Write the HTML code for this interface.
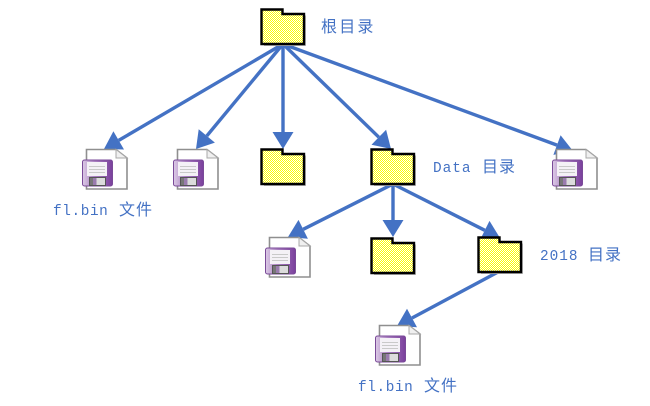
<!DOCTYPE html>
<html>
<head>
<meta charset="utf-8">
<style>
html,body{margin:0;padding:0;background:#fff;width:650px;height:406px;overflow:hidden}
svg{display:block}
text{fill:#4472C4;font-family:"Liberation Mono","Noto Sans CJK SC",monospace;font-size:14.4px}
.c{font-family:"Noto Sans CJK SC","WenQuanYi Zen Hei",sans-serif;font-size:16px}
</style>
</head>
<body>
<svg width="650" height="406" viewBox="0 0 650 406" xmlns="http://www.w3.org/2000/svg">
<defs>
<pattern id="dither" width="2" height="2" patternUnits="userSpaceOnUse">
<rect width="2" height="2" fill="#ffffff"/>
<rect width="1" height="1" fill="#ffff00"/>
<rect x="1" y="1" width="1" height="1" fill="#ffff00"/>
</pattern>
<linearGradient id="pg" x1="0" x2="1" y1="0" y2="0">
<stop offset="0" stop-color="#dccbe6"/><stop offset=".4" stop-color="#a97fc0"/><stop offset="1" stop-color="#7a3f9c"/>
</linearGradient>
<g id="folder">
<path d="M44.5 6.5 V36.5 H3" fill="none" stroke="#bbb" stroke-width="1"/>
<path d="M0.5 0.5 H21.5 V5 H43 V35 H0.5 Z" fill="url(#dither)" stroke="#000" stroke-width="2.4" stroke-linejoin="miter"/>
</g>
<g id="file">
<path d="M4.5 0.5 H34 L45 9 V40 H4.5 Z" fill="#fff" stroke="#8f8f8f" stroke-width="1.6"/>
<path d="M34 0.5 V9 H45 Z" fill="#f0f0f0" stroke="#a8a8a8" stroke-width="1"/>
<rect x="0.5" y="11" width="30" height="26" rx="2" fill="url(#pg)" stroke="#7a4a98" stroke-width="1"/>
<rect x="5" y="13" width="20" height="14" fill="#f4f1f6"/>
<path d="M7 17.5H23M7 20.5H23M7 23.5H23" stroke="#c9c9c9" stroke-width="1"/>
<rect x="7.5" y="28.5" width="16" height="8" fill="#dcdcdc" stroke="#555" stroke-width="1"/>
<rect x="8" y="29" width="3" height="7" fill="#777"/>
<rect x="11" y="29" width="3.5" height="7" fill="#9a7bae"/>
</g>
</defs>

<!-- connectors -->
<g stroke="#4472C4" stroke-width="3.4" fill="none">
<path d="M283 44 L118.7 140.4"/>
<path d="M283 44 L206.8 135.9"/>
<path d="M283 44 V132"/>
<path d="M283 44 L378.8 137.2"/>
<path d="M283 44 L557 145.1"/>
<path d="M393 184 L303.2 229.3"/>
<path d="M393 184 V220"/>
<path d="M393 184 L484.8 230.3"/>
<path d="M498 272 L412 318"/>
</g>
<g fill="#4472C4">
<path d="M104 149 L113.4 131.3 L124 149.5 Z"/>
<path d="M196 149 L198.7 129.2 L214.9 142.6 Z"/>
<path d="M283 149 L272.5 132 L293.5 132 Z"/>
<path d="M391 149 L371.5 144.7 L386.1 129.7 Z"/>
<path d="M573 151 L553.4 154.9 L560.6 135.3 Z"/>
<path d="M288 237 L298.5 219.9 L307.9 238.7 Z"/>
<path d="M393 237 L382.5 220 L403.5 220 Z"/>
<path d="M500 238 L480.1 239.7 L489.5 220.9 Z"/>
<path d="M397 326 L407 308.7 L417 327.3 Z"/>
</g>

<!-- folders -->
<use href="#folder" x="261" y="9"/>
<use href="#folder" x="261" y="149"/>
<use href="#folder" x="371" y="149"/>
<use href="#folder" x="371" y="238"/>
<use href="#folder" x="478" y="237"/>

<!-- files -->
<use href="#file" x="82" y="149"/>
<use href="#file" x="173" y="149"/>
<use href="#file" x="552" y="149"/>
<use href="#file" x="265" y="237"/>
<use href="#file" x="375" y="325"/>

<!-- labels -->
<text class="c" x="321" y="32" letter-spacing="2.2">根目录</text>
<text x="433" y="172" letter-spacing="1">Data</text>
<text class="c" x="482" y="172" letter-spacing="1">目录</text>
<text x="53" y="215" letter-spacing="0.6">fl.bin</text>
<text class="c" x="119" y="215" letter-spacing="1">文件</text>
<text x="540" y="260" letter-spacing="1">2018</text>
<text class="c" x="588" y="260" letter-spacing="1">目录</text>
<text x="358" y="391" letter-spacing="0.6">fl.bin</text>
<text class="c" x="424" y="391" letter-spacing="1">文件</text>
</svg>
</body>
</html>
